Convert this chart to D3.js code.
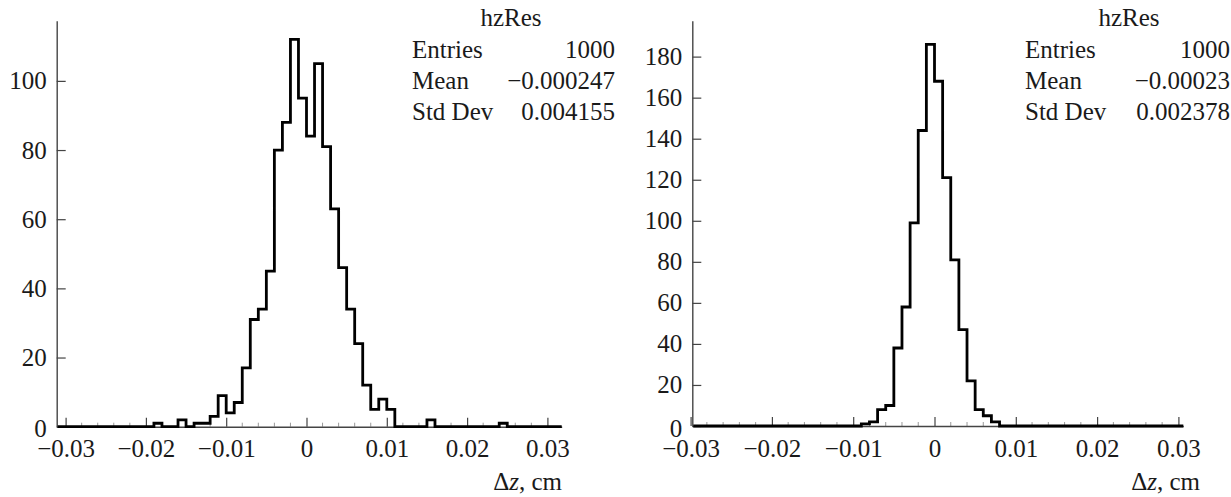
<!DOCTYPE html>
<html>
<head>
<meta charset="utf-8">
<script src="https://cdn.jsdelivr.net/npm/d3@7"></script>
<style>
  html, body { margin: 0; padding: 0; background: #fff; }
</style>
</head>
<body>
<svg id="chart" width="1231" height="497"></svg>
<script>
// ---- Data ----
// 64 bins of width 0.001 cm, first lower edge at -0.032
const binStart = -0.032;
const binWidth = 0.001;

const countsLeft = [
  0, 0, 0, 0, 0, 0, 0, 0, 0, 0, 0, 0, 0, 1, 0, 0,
  2, 0, 1, 1, 3, 9, 4, 7, 17, 31, 34, 45, 80, 88, 112, 95,
  84, 105, 81, 63, 46, 34, 24, 12, 5, 8, 5, 0, 0, 0, 0, 2,
  0, 0, 0, 0, 0, 0, 0, 0, 1, 0, 0, 0, 0, 0, 0, 0
];

const countsRight = [
  0, 0, 0, 0, 0, 0, 0, 0, 0, 0, 0, 0, 0, 0, 0, 0,
  0, 0, 0, 0, 0, 0, 0, 1, 2, 8, 10, 38, 58, 99, 144, 186,
  168, 121, 81, 47, 22, 8, 5, 2, 0, 0, 0, 0, 0, 0, 0, 0,
  0, 0, 0, 0, 0, 0, 0, 0, 0, 0, 0, 0, 0, 0, 0, 0
];

const xTicks = [-0.03, -0.02, -0.01, 0, 0.01, 0.02, 0.03];
const xMinorTicks = d3.range(-30, 31, 2).filter((k) => k % 10 !== 0).map((k) => k / 1000);
const yTicksLeft = [0, 20, 40, 60, 80, 100];
const yTicksRight = [0, 20, 40, 60, 80, 100, 120, 140, 160, 180];

const statNames = ["Entries", "Mean", "Std Dev"];
const statsLeft = ["1000", "\u22120.000247", "0.004155"];
const statsRight = ["1000", "\u22120.00023", "0.002378"];
const histName = "hzRes";

(function () {
  "use strict";

  // ---- Layout per panel (pixels) ----
  const PANELS = [
    {
      counts: countsLeft, yTicks: yTicksLeft, stats: statsLeft,
      left: 56.7, right: 561.7, zeroX: 306.5, pxPerUnit: 8030,
      bottom: 426.7, top: 20.7, yMax: 117.4,
      statLeft: 412, statRight: 615, titleX: 511, labelRight: 562
    },
    {
      counts: countsRight, yTicks: yTicksRight, stats: statsRight,
      left: 692.3, right: 1183.3, zeroX: 934.5, pxPerUnit: 8130,
      bottom: 426, top: 20.7, yMax: 197.5,
      statLeft: 1025, statRight: 1230, titleX: 1129, labelRight: 1200
    }
  ];

  const FONT = 25;
  const FAMILY = "Liberation Serif";
  const INK = "#1a1a1a";
  const svg = d3.select("#chart");

  function fmtX(d) {
    if (d === 0) return "0";
    return (d < 0 ? "\u2212" : "") + Math.abs(d).toFixed(2);
  }

  function styleText(sel) {
    return sel.attr("font-size", FONT).style("font-family", FAMILY).attr("fill", INK);
  }

  function drawPanel(p) {
    const x = d3.scaleLinear()
      .domain([(p.left - p.zeroX) / p.pxPerUnit, (p.right - p.zeroX) / p.pxPerUnit])
      .range([p.left, p.right]);
    const y = d3.scaleLinear().domain([0, p.yMax]).range([p.bottom, p.top]);

    const g = svg.append("g");

    // minor ticks on x
    g.append("g")
      .selectAll("line")
      .data(xMinorTicks)
      .join("line")
      .attr("x1", (d) => x(d)).attr("x2", (d) => x(d))
      .attr("y1", p.bottom).attr("y2", p.bottom - 4)
      .attr("stroke", "#999").attr("stroke-width", 1);

    // x axis
    const xAxis = g.append("g")
      .attr("transform", `translate(0,${p.bottom})`)
      .call(d3.axisBottom(x).tickValues(xTicks).tickFormat(fmtX).tickSize(-9).tickSizeOuter(0).tickPadding(13));
    styleText(xAxis.selectAll("text"));

    // y axis
    const yAxis = g.append("g")
      .attr("transform", `translate(${p.left},0)`)
      .call(d3.axisLeft(y).tickValues(p.yTicks).tickSize(-9).tickSizeOuter(0).tickPadding(10));
    styleText(yAxis.selectAll("text"));
    yAxis.selectAll(".tick").filter((d) => d === 0).select("text").attr("transform", "translate(0,2)");

    [xAxis, yAxis].forEach((a) => {
      a.select(".domain").attr("stroke", "#444").attr("stroke-width", 1.4);
      a.selectAll(".tick line").attr("stroke", "#444").attr("stroke-width", 1.2);
    });

    // histogram outline
    const pts = [];
    p.counts.forEach((c, i) => {
      const x0 = Math.max(x(binStart + i * binWidth), p.left + 1);
      const x1 = Math.min(x(binStart + (i + 1) * binWidth), p.right);
      if (x1 <= x0) return;
      pts.push([x0, y(c)], [x1, y(c)]);
    });
    g.append("path")
      .attr("d", d3.line()(pts))
      .attr("fill", "none")
      .attr("stroke", "#000")
      .attr("stroke-width", 2.8)
      .attr("stroke-linejoin", "miter");

    // stats box text
    const st = g.append("g");
    styleText(st.append("text").attr("x", p.titleX).attr("y", 26).attr("text-anchor", "middle").text(histName));
    statNames.forEach((name, i) => {
      const by = 57.5 + i * 31;
      styleText(st.append("text").attr("x", p.statLeft).attr("y", by).text(name));
      styleText(st.append("text").attr("x", p.statRight).attr("y", by).attr("text-anchor", "end").text(p.stats[i]));
    });

    // x axis title
    const t = styleText(g.append("text")
      .attr("x", p.labelRight).attr("y", 490)
      .attr("text-anchor", "end"));
    t.append("tspan").text("\u0394");
    t.append("tspan").attr("font-style", "italic").text("z");
    t.append("tspan").text(", cm");
  }

  PANELS.forEach(drawPanel);
})();
</script>
</body>
</html>
